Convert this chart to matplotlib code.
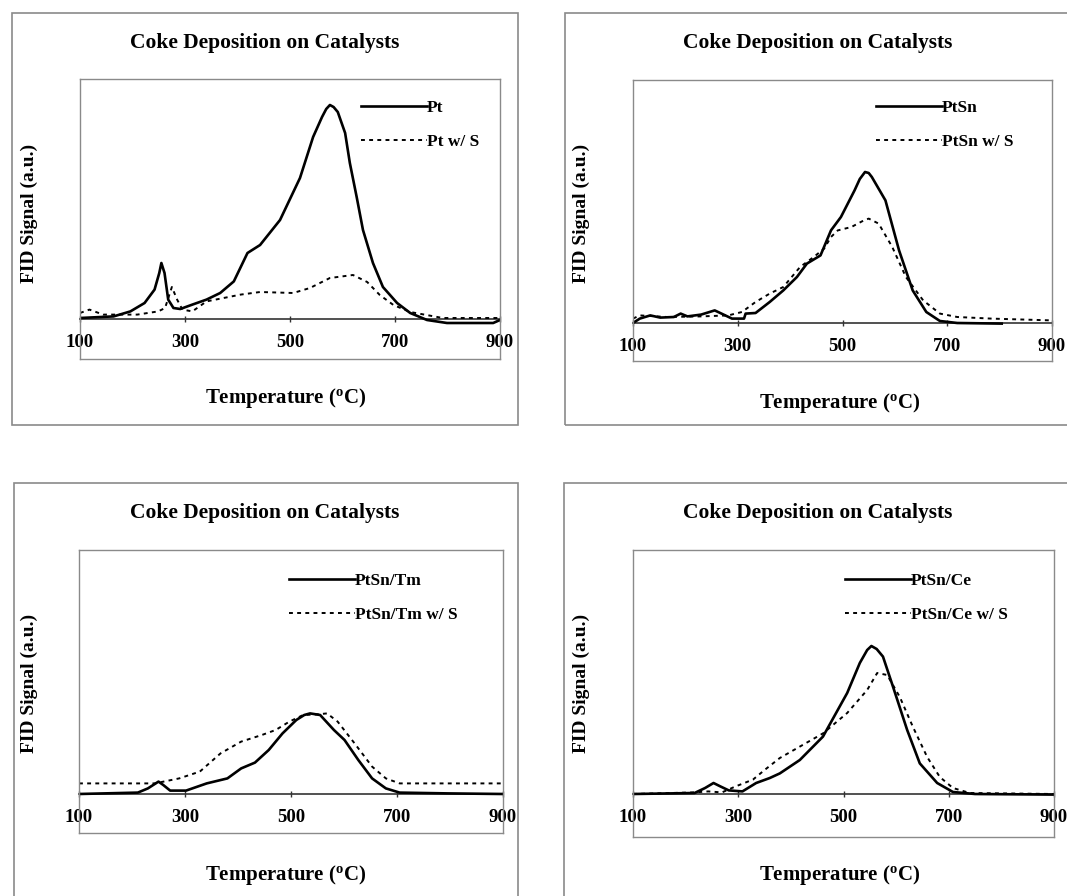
import numpy as np
import matplotlib
matplotlib.use("Agg")
import matplotlib.pyplot as plt
from matplotlib.patches import Rectangle

plt.rcParams['font.family'] = ['Liberation Serif', 'DejaVu Serif']
plt.rcParams['font.weight'] = 'bold'
plt.rcParams['mathtext.fontset'] = 'custom'
plt.rcParams['mathtext.rm'] = 'Liberation Serif:bold'
plt.rcParams['mathtext.it'] = 'Liberation Serif:bold'
plt.rcParams['mathtext.bf'] = 'Liberation Serif:bold'

W, H = 1067, 896
xticks = [100, 300, 500, 700, 900]

# --- Pt ---
pt_T = [100, 164, 196, 223, 242, 251, 255, 261, 268, 278, 291, 314, 341, 367, 393, 419, 443, 481,
        519, 544, 561, 569, 576, 583, 591, 605, 614, 627, 639, 658, 677, 704, 729, 761, 799, 887, 900]
pt_y = [0.05, 0.13, 0.38, 0.8, 1.47, 2.3, 2.8, 2.3, 0.97, 0.55, 0.5, 0.72, 0.97, 1.3, 1.88, 3.3, 3.7, 4.95,
        7.05, 9.1, 10.1, 10.5, 10.7, 10.6, 10.35, 9.3, 7.8, 6.1, 4.45, 2.8, 1.6, 0.8, 0.3, -0.05, -0.2, -0.2, -0.05]
pts_T = [100, 118, 144, 209, 249, 262, 275, 285, 295, 314, 341, 406, 443, 506, 538, 576, 620, 647,
         671, 697, 729, 791, 900]
pts_y = [0.3, 0.47, 0.22, 0.22, 0.38, 0.55, 1.6, 0.97, 0.47, 0.38, 0.88, 1.22, 1.35, 1.3, 1.55, 2.05, 2.2, 1.85,
         1.2, 0.7, 0.35, 0.05, 0.05]

# --- PtSn ---
ptsn_T = [100, 113, 133, 152, 178, 191, 204, 230, 256, 269, 289, 312, 315, 334, 361, 387, 413, 432,
          458, 478, 497, 523, 533, 543, 550, 556, 582, 608, 634, 660, 686, 719, 804]
ptsn_y = [0, 0.22, 0.38, 0.27, 0.3, 0.47, 0.33, 0.42, 0.63, 0.47, 0.22, 0.22, 0.47, 0.5, 1.05, 1.63, 2.3, 2.97,
          3.38, 4.63, 5.3, 6.63, 7.2, 7.55, 7.5, 7.3, 6.13, 3.63, 1.63, 0.55, 0.1, 0, -0.03]
ptsns_T = [100, 113, 165, 230, 282, 308, 334, 361, 387, 419, 445, 465, 478, 491, 517, 540, 550, 569, 595,
           621, 654, 686, 719, 784, 900]
ptsns_y = [0.22, 0.38, 0.3, 0.33, 0.38, 0.55, 1.05, 1.47, 1.8, 2.8, 3.3, 3.72, 4.3, 4.63, 4.8, 5.12, 5.22, 4.97, 3.8,
           2.3, 1.13, 0.47, 0.3, 0.22, 0.13]

# --- PtSn/Tm ---
tm_T = [100, 211, 230, 250, 259, 272, 302, 341, 380, 406, 432, 458, 484, 510, 525, 536, 555, 581, 601,
        627, 653, 679, 705, 796, 900]
tm_y = [0, 0.07, 0.28, 0.62, 0.45, 0.17, 0.17, 0.53, 0.78, 1.28, 1.57, 2.2, 3.03, 3.7, 3.95, 4.03, 3.95, 3.2, 2.7,
        1.7, 0.78, 0.28, 0.07, 0.03, 0]
tms_T = [100, 243, 289, 328, 367, 406, 445, 471, 497, 523, 549, 568, 588, 620, 653, 679, 705, 900]
tms_y = [0.53, 0.53, 0.78, 1.12, 2.03, 2.62, 2.95, 3.2, 3.62, 3.95, 3.98, 4.03, 3.62, 2.53, 1.37, 0.78, 0.53, 0.53]

# --- PtSn/Ce ---
ce_T = [100, 217, 237, 253, 266, 282, 308, 334, 360, 379, 417, 461, 507, 531, 545, 553, 563, 575,
        594, 621, 645, 678, 708, 750, 900]
ce_y = [0, 0.05, 0.3, 0.55, 0.38, 0.18, 0.13, 0.55, 0.8, 1.03, 1.7, 2.87, 5.05, 6.55, 7.2, 7.4, 7.25, 6.87,
        5.37, 3.2, 1.53, 0.55, 0.1, 0, -0.03]
ces_T = [100, 217, 243, 269, 295, 328, 350, 379, 417, 461, 507, 545, 564, 583, 607, 632, 659, 683,
         708, 740, 900]
ces_y = [0, 0.08, 0.13, 0.08, 0.38, 0.72, 1.2, 1.8, 2.37, 3.03, 4.05, 5.2, 6.05, 5.95, 4.85, 3.35, 1.85, 0.85,
         0.3, 0.05, 0]

panels = [
    dict(names=("Pt", "Pt w/ S"), solid=(pt_T, pt_y), dash=(pts_T, pts_y),
         frame=(12, 13, 518, 425), box=(80, 79, 500, 359), ylim=(-2.0, 12.0),
         title=(265, 43), ylab=(29, 213), xlab=(286, 398), leg=(361, 100)),
    dict(names=("PtSn", "PtSn w/ S"), solid=(ptsn_T, ptsn_y), dash=(ptsns_T, ptsns_y),
         frame=(565, 13, 1080, 425), box=(633, 80, 1052, 361), ylim=(-1.9, 12.15),
         title=(818, 43), ylab=(581, 213), xlab=(840, 403), leg=(876, 100)),
    dict(names=("PtSn/Tm", "PtSn/Tm w/ S"), solid=(tm_T, tm_y), dash=(tms_T, tms_y),
         frame=(14, 483, 518, 910), box=(79, 550, 503, 833), ylim=(-1.95, 12.2),
         title=(265, 513), ylab=(29, 683), xlab=(286, 875), leg=(289, 573)),
    dict(names=("PtSn/Ce", "PtSn/Ce w/ S"), solid=(ce_T, ce_y), dash=(ces_T, ces_y),
         frame=(564, 483, 1080, 910), box=(633, 550, 1054, 837), ylim=(-2.15, 12.2),
         title=(818, 513), ylab=(581, 683), xlab=(840, 875), leg=(845, 573)),
]


def fx(px):
    return px / W


def fy(py):
    return 1 - py / H


fig = plt.figure(figsize=(W / 100, H / 100), dpi=100)

for p in panels:
    l, t, r, b = p['frame']
    fig.patches.append(Rectangle((fx(l), fy(b)), fx(r - l), (b - t) / H, transform=fig.transFigure,
                                 fill=False, edgecolor='#8a8a8a', linewidth=1.2))

    l, t, r, b = p['box']
    ax = fig.add_axes([fx(l), fy(b), fx(r - l), (b - t) / H])
    for s in ax.spines.values():
        s.set_color('#8a8a8a')
        s.set_linewidth(1.0)
    ax.set_xlim(100, 900)
    ax.set_ylim(*p['ylim'])
    ax.set_xticks([])
    ax.set_yticks([])

    ax.plot(*p['solid'], color='black', lw=1.9, label=p['names'][0], solid_joinstyle='round')
    ax.plot(*p['dash'], color='black', lw=1.4, linestyle=(0, (2, 2.2)), label=p['names'][1])

    # horizontal axis drawn at zero signal
    y0, y1 = p['ylim']
    base = ax.secondary_xaxis(-y0 / (y1 - y0))
    base.set_xticks(xticks)
    base.spines['bottom'].set_color('#333333')
    base.spines['bottom'].set_linewidth(1.2)
    base.tick_params(direction='inout', length=4, width=1, colors='#333333', pad=9, labelsize=13.5,
                     labelcolor='black')

    ax.legend(loc='upper left', bbox_to_anchor=(fx(p['leg'][0]), fy(p['leg'][1])),
              bbox_transform=fig.transFigure, frameon=False, fontsize=12.5, handlelength=3.8,
              handletextpad=0.0, labelspacing=1.0, borderpad=0, borderaxespad=0)

    fig.text(fx(p['title'][0]), fy(p['title'][1]), "Coke Deposition on Catalysts",
             ha='center', va='center', fontsize=15.5, fontweight='bold')
    fig.text(fx(p['ylab'][0]), fy(p['ylab'][1]), "FID Signal (a.u.)", rotation=90,
             ha='center', va='center', fontsize=14, fontweight='bold')
    fig.text(fx(p['xlab'][0]), fy(p['xlab'][1]), r"Temperature ($^\mathrm{o}$C)",
             ha='center', va='center', fontsize=15, fontweight='bold')

fig.savefig("out.png", dpi=100, facecolor='white')
